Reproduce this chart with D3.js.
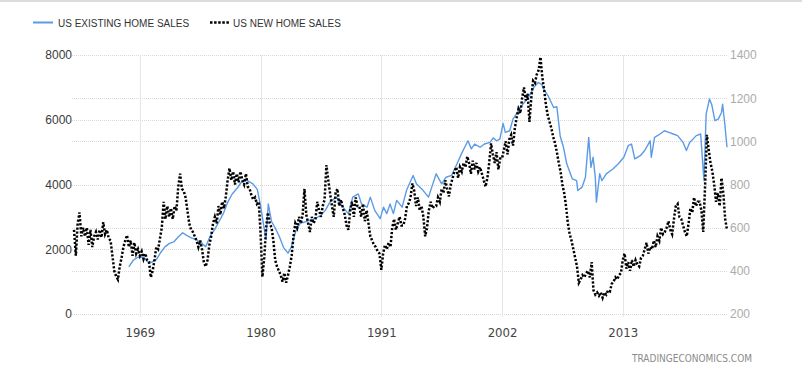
<!DOCTYPE html>
<html>
<head>
<meta charset="utf-8">
<script src="https://cdn.jsdelivr.net/npm/d3@7"></script>
<style>
  body { margin: 0; background: #fff; }
  svg { display: block; }
</style>
</head>
<body>
<div id="chart"></div>
<script>
// US existing home sales (thousands, left axis) as [year, value]
var existingSales = [
  [1968.0, 1456], [1968.4, 1660], [1968.8, 1750], [1969.3, 1760], [1969.7, 1620],
  [1970.1, 1600], [1970.5, 1680], [1970.9, 1900], [1971.3, 2080], [1971.7, 2180],
  [1972.1, 2230], [1972.5, 2380], [1972.9, 2510], [1973.3, 2420], [1973.7, 2350],
  [1974.1, 2300], [1974.6, 2200], [1975.0, 2080], [1975.4, 2400], [1975.8, 2600],
  [1976.2, 2850], [1976.6, 3100], [1977.0, 3450], [1977.4, 3700], [1977.9, 3900],
  [1978.3, 4100], [1978.8, 4120], [1979.3, 4020], [1979.7, 3850], [1980.0, 3350],
  [1980.3, 2700], [1980.5, 2300], [1980.7, 3400], [1981.0, 2850], [1981.3, 2680],
  [1981.7, 2400], [1982.1, 2050], [1982.5, 1880], [1982.8, 2070], [1983.2, 2550],
  [1983.6, 2800], [1984.1, 2850], [1984.5, 2900], [1985.0, 2950], [1985.5, 3050],
  [1985.9, 3200], [1986.3, 3450], [1986.9, 3610], [1987.5, 3300], [1988.0, 3100],
  [1988.4, 3610], [1988.9, 3710], [1989.2, 3400], [1989.7, 3300], [1990.0, 3610],
  [1990.4, 3200], [1990.9, 2945], [1991.2, 3300], [1991.5, 3100], [1991.8, 3400],
  [1992.1, 3100], [1992.4, 3510], [1992.9, 3300], [1993.3, 3820], [1993.9, 4280],
  [1994.2, 4020], [1994.8, 3820], [1995.3, 3610], [1995.7, 4020], [1996.0, 4330],
  [1996.5, 4020], [1996.9, 4225], [1997.4, 4280], [1997.9, 4640], [1998.3, 4945],
  [1998.6, 5150], [1998.9, 5350], [1999.2, 5100], [1999.5, 5250], [2000.0, 5150],
  [2000.4, 5250], [2000.9, 5300], [2001.2, 5440], [2001.5, 5350], [2001.8, 5400],
  [2002.1, 5890], [2002.3, 5610], [2002.7, 5660], [2003.0, 6020], [2003.5, 6280],
  [2003.9, 6480], [2004.4, 6690], [2004.9, 7000], [2005.3, 7150], [2005.6, 7100],
  [2005.9, 6890], [2006.2, 6740], [2006.7, 6380], [2007.0, 6400], [2007.3, 5500],
  [2007.6, 5150], [2007.9, 4640], [2008.4, 4175], [2008.8, 4120], [2008.9, 3815],
  [2009.3, 3920], [2009.6, 4225], [2009.9, 5455], [2010.1, 4530], [2010.3, 4840],
  [2010.5, 4225], [2010.6, 3455], [2010.9, 4330], [2011.1, 4120], [2011.5, 4330],
  [2012.1, 4480], [2012.6, 4640], [2013.1, 4840], [2013.5, 5200], [2013.8, 5250],
  [2014.1, 4790], [2014.6, 4890], [2015.0, 5050], [2015.5, 5350], [2015.6, 4840],
  [2015.9, 5455], [2016.4, 5560], [2016.8, 5660], [2017.2, 5610], [2017.6, 5560],
  [2018.0, 5510], [2018.5, 5300], [2018.8, 5050], [2019.1, 5300], [2019.7, 5510],
  [2020.1, 5560], [2020.4, 4120], [2020.6, 6175], [2020.9, 6640], [2021.1, 6480],
  [2021.4, 5970], [2021.7, 6020], [2022.0, 6225], [2022.1, 6480], [2022.3, 5870],
  [2022.5, 5150]
];

// US new home sales (thousands, right axis), every two months from 1963
var newStart = 1963;
var newStep = 1 / 6;
var newSales = [
  590, 470, 620, 670, 560, 600,    560, 600, 520, 590, 510, 560,    580, 545, 590, 555, 625, 570,
  590, 550, 540, 470, 400, 375,    360, 420, 460, 510, 540, 565,    510, 540, 470, 530, 480, 500,
  470, 490, 455, 480, 450, 440,    370, 400, 450, 510, 500, 550,    600, 720, 640, 700, 650, 690,
  640, 700, 680, 790, 850, 780,    770, 740, 680, 620, 590, 580,    560, 540, 510, 540, 500, 440,
  420, 450, 520, 560, 620, 650,    620, 700, 660, 720, 690, 745,    820, 875, 820, 860, 800, 850,
  810, 860, 820, 800, 850, 790,    780, 750, 730, 740, 710, 720,    575, 372, 460, 600, 670, 620,
  600, 540, 450, 420, 400, 380,    350, 390, 345, 380, 420, 470,    560, 620, 600, 650, 620, 660,
  780, 660, 620, 580, 650, 620,    640, 720, 680, 650, 700, 730,    890, 820, 760, 700, 650, 760,
  780, 700, 730, 690, 660, 610,    590, 680, 720, 650, 740, 700,    700, 650, 710, 630, 680, 620,
  560, 540, 520, 510, 490, 480,    405, 480, 520, 500, 530, 510,    600, 640, 590, 620, 650, 610,
  610, 640, 700, 713, 740, 805,    770, 700, 740, 680, 700, 650,    560, 600, 680, 720, 690, 700,
  700, 740, 720, 780, 760, 820,    780, 745, 800, 830, 860, 880,    830, 880, 860, 900, 880, 930,
  900, 850, 910, 870, 900, 860,    880, 850, 820, 790, 830, 900,    990, 940, 900, 950, 870, 920,
  920, 960, 1000, 940, 1010, 1030, 980, 1060, 1110, 1150, 1130, 1200, 1250, 1190, 1220, 1090, 1200, 1280,
  1270, 1310, 1330, 1390, 1300, 1240, 1170, 1120, 1090, 1060, 1020, 990, 950, 900, 860, 800, 760, 700,
  620, 570, 540, 500, 460, 420,    345, 360, 380, 370, 390, 400,    370, 440, 310, 290, 300, 285,
  300, 275, 300, 290, 310, 305,    340, 350, 370, 360, 380, 390,    450, 480, 410, 440, 400, 450,
  420, 450, 430, 420, 460, 470,    500, 530, 480, 510, 500, 540,    510, 560, 540, 600, 570, 580,
  600, 630, 590, 570, 640, 700,    710, 650, 640, 610, 580, 560,    620, 690, 670, 740, 700, 720,
  720, 680, 580, 790, 1030, 960,   900, 860, 800, 720, 760, 700,    830, 760, 640, 590
];

var yearTicks = [1969, 1980, 1991, 2002, 2013];
var leftTicks = [0, 2000, 4000, 6000, 8000];
var rightTicks = [200, 400, 600, 800, 1000, 1200, 1400];

var svgWidth = 802;
var svgHeight = 373;

var plot = { left: 72, right: 727, top: 55, bottom: 314 };

var svg = d3.select("#chart")
  .append("svg")
  .attr("width", svgWidth)
  .attr("height", svgHeight);

var font = "'Liberation Sans', Arial, sans-serif";
var narrow = "'Liberation Sans Narrow', 'Arial Narrow', 'DejaVu Sans Condensed', sans-serif";

// scales
var xScale = d3.scaleLinear()
  .domain([1963, 2022.5])
  .range([74, 727]);

var yLeft = d3.scaleLinear()
  .domain([0, 8000])
  .range([plot.bottom, plot.top]);

var yRight = d3.scaleLinear()
  .domain([200, 1400])
  .range([plot.bottom, plot.top]);

// top border
svg.append("line")
  .attr("x1", 0).attr("x2", svgWidth)
  .attr("y1", 1).attr("y2", 1)
  .attr("stroke", "#dcdcdc")
  .attr("stroke-width", 2);

// horizontal gridlines for both axes
var gridYs = leftTicks.map(d => yLeft(d)).concat(rightTicks.map(d => yRight(d)));
svg.append("g")
  .selectAll("line")
  .data(gridYs)
  .enter()
  .append("line")
  .attr("x1", plot.left)
  .attr("x2", plot.right)
  .attr("y1", d => Math.round(d) + 0.5)
  .attr("y2", d => Math.round(d) + 0.5)
  .attr("stroke", "#d9d9d9")
  .attr("stroke-dasharray", "1,1");

// vertical gridlines at year ticks
svg.append("g")
  .selectAll("line")
  .data(yearTicks)
  .enter()
  .append("line")
  .attr("x1", d => Math.round(xScale(d)) + 0.5)
  .attr("x2", d => Math.round(xScale(d)) + 0.5)
  .attr("y1", plot.top)
  .attr("y2", plot.bottom + 3)
  .attr("stroke", "#e6e6e6");

// left axis
var leftAxis = d3.axisLeft(yLeft)
  .tickValues(leftTicks)
  .tickSize(0)
  .tickPadding(0)
  .tickFormat(d3.format("d"));

var leftG = svg.append("g")
  .attr("transform", `translate(${plot.left}, 0)`)
  .call(leftAxis);
leftG.select(".domain").remove();
leftG.selectAll("text")
  .attr("font-family", font)
  .attr("font-size", 12)
  .attr("fill", "#3a3a3a");

// right axis
var rightAxis = d3.axisRight(yRight)
  .tickValues(rightTicks)
  .tickSize(0)
  .tickPadding(3)
  .tickFormat(d3.format("d"));

var rightG = svg.append("g")
  .attr("transform", `translate(${plot.right}, 0)`)
  .call(rightAxis);
rightG.select(".domain").remove();
rightG.selectAll("text")
  .attr("font-family", font)
  .attr("font-size", 12)
  .attr("fill", "#ababab");

// bottom axis
var bottomAxis = d3.axisBottom(xScale)
  .tickValues(yearTicks)
  .tickSize(0)
  .tickPadding(14)
  .tickFormat(d3.format("d"));

var bottomG = svg.append("g")
  .attr("transform", `translate(0, ${plot.bottom})`)
  .call(bottomAxis);
bottomG.select(".domain").remove();
bottomG.selectAll("text")
  .attr("font-family", narrow)
  .attr("font-size", 13)
  .attr("fill", "#444");

// existing home sales line
var existingLine = d3.line()
  .x(d => xScale(d[0]))
  .y(d => yLeft(d[1]));

svg.append("path")
  .datum(existingSales)
  .attr("d", existingLine)
  .attr("fill", "none")
  .attr("stroke", "#5b9be6")
  .attr("stroke-width", 1.4)
  .attr("stroke-linejoin", "round");

// new home sales dotted line
var newLine = d3.line()
  .x((d, i) => xScale(newStart + i * newStep))
  .y(d => yRight(d));

svg.append("path")
  .datum(newSales)
  .attr("d", newLine)
  .attr("fill", "none")
  .attr("stroke", "#000")
  .attr("stroke-width", 2.5)
  .attr("stroke-dasharray", "2.2,1.8");

// legend
var legend = svg.append("g");
legend.append("line")
  .attr("x1", 33).attr("x2", 53)
  .attr("y1", 22.5).attr("y2", 22.5)
  .attr("stroke", "#5b9be6")
  .attr("stroke-width", 2);
legend.append("text")
  .attr("x", 58).attr("y", 26.5)
  .attr("font-family", font)
  .attr("font-size", 10)
  .attr("fill", "#333")
  .text("US EXISTING HOME SALES");
legend.append("line")
  .attr("x1", 210).attr("x2", 229)
  .attr("y1", 22.5).attr("y2", 22.5)
  .attr("stroke", "#000")
  .attr("stroke-width", 2.5)
  .attr("stroke-dasharray", "2.5,1.6");
legend.append("text")
  .attr("x", 233).attr("y", 26.5)
  .attr("font-family", font)
  .attr("font-size", 10)
  .attr("fill", "#333")
  .text("US NEW HOME SALES");

// source credit
svg.append("text")
  .attr("x", 752).attr("y", 362)
  .attr("text-anchor", "end")
  .attr("font-family", narrow)
  .attr("font-size", 10)
  .attr("fill", "#8a8a8a")
  .text("TRADINGECONOMICS.COM");
</script>
</body>
</html>
